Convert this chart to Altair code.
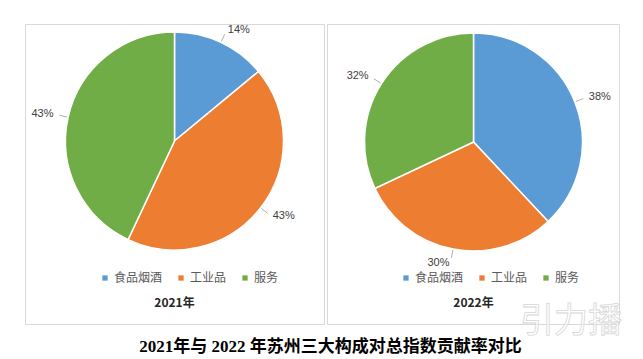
import altair as alt
import pandas as pd

categories = ["食品烟酒", "工业品", "服务"]
colors = ["#5B9BD5", "#ED7D31", "#70AD47"]
values_2021 = [14, 43, 43]
values_2022 = [38, 30, 32]
labels_2021 = ["14%", "43%", "43%"]
labels_2022 = ["38%", "30%", "32%"]
panel_titles = ["2021年", "2022年"]
caption = "2021年与 2022 年苏州三大构成对总指数贡献率对比"
watermark = "引力播"

R = 109
PANEL_H = 300
CJK = "Noto Sans CJK SC"


def panel(values, labels, title, width, cx, cy, legend_x, wm=False):
    df = pd.DataFrame({"cat": categories, "val": values, "lab": labels,
                       "ord": list(range(len(categories)))})
    base = (
        alt.Chart(df)
        .transform_window(cum="sum(val)", sort=[alt.SortField("ord")])
        .transform_joinaggregate(tot="sum(val)")
        .transform_calculate(am="(datum.cum - datum.val/2)/datum.tot*2*PI")
    )
    arc = alt.Chart(df).mark_arc(outerRadius=R, stroke="white", strokeWidth=1.5).encode(
        theta=alt.Theta("val:Q", stack=True),
        order=alt.Order("ord:Q"),
        color=alt.Color(
            "cat:N",
            scale=alt.Scale(domain=categories, range=colors),
            sort=categories,
            legend=alt.Legend(
                orient="none", legendX=legend_x, legendY=248, direction="horizontal",
                title=None, symbolType="square", symbolSize=28, symbolStrokeWidth=0,
                labelFontSize=12, labelColor="#595959", labelFont=CJK,
                columnPadding=12, labelOffset=3,
            ),
        ),
        x=alt.value(cx),
        y=alt.value(cy),
    )
    leaders = base.transform_calculate(
        x1=f"{cx} + {R + 1}*sin(datum.am)",
        y1=f"{cy} - {R + 1}*cos(datum.am)",
        x2=f"{cx} + {R + 9}*sin(datum.am)",
        y2=f"{cy} - {R + 9}*cos(datum.am)",
    ).mark_rule(color="#a6a6a6", strokeWidth=0.9).encode(
        x=alt.X("x1:Q", scale=None), y=alt.Y("y1:Q", scale=None),
        x2="x2:Q", y2="y2:Q",
    )
    labs = base.transform_calculate(
        lx=f"{cx} + {R + 14}*sin(datum.am) + 12*(sin(datum.am) >= 0 ? 1 : -1)",
        ly=f"{cy} - {R + 14}*cos(datum.am)",
    ).mark_text(fontSize=11, color="#404040", font="Liberation Sans").encode(
        x=alt.X("lx:Q", scale=None), y=alt.Y("ly:Q", scale=None), text="lab:N",
    )
    tdf = pd.DataFrame({"t": [title]})
    ttl = alt.Chart(tdf).mark_text(fontSize=12, fontWeight="bold", color="#262626",
                                   font=CJK).encode(
        text="t:N", x=alt.value(cx), y=alt.value(279),
    )
    layers = [arc, leaders, labs, ttl]
    if wm:
        wdf = pd.DataFrame({"w": [watermark]})
        layers.append(
            alt.Chart(wdf).mark_text(fontSize=34, fill="white", fillOpacity=0.6,
                                     stroke="#d6d6d6", strokeWidth=0.8, font=CJK).encode(
                text="w:N", x=alt.value(244), y=alt.value(298),
            )
        )
    return alt.layer(*layers).properties(width=width, height=PANEL_H)


left = panel(values_2021, labels_2021, panel_titles[0], 299, 149.5, 117, 74)
right = panel(values_2022, labels_2022, panel_titles[1], 292, 146.5, 118, 73, wm=True)

chart = (
    alt.hconcat(left, right, spacing=1)
    .resolve_scale(color="independent")
    .resolve_legend(color="independent")
    .properties(
        padding={"left": 16, "top": 15, "right": 5, "bottom": 5},
        title=alt.TitleParams(
            caption, orient="bottom", anchor="middle", fontSize=17,
            font="Liberation Serif, Noto Sans CJK SC", fontWeight="bold",
            color="black", offset=-1, dx=7,
        ),
    )
    .configure_view(stroke="#d9d9d9", strokeWidth=1)
)

chart.save("out.html", embed_options={"renderer": "svg", "actions": False})
